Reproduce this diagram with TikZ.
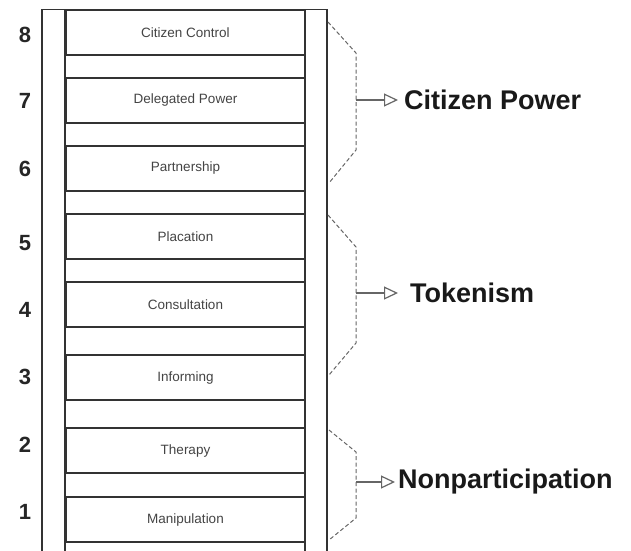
\documentclass[tikz,border=0pt]{standalone}
\usepackage{fontspec}
\setmainfont{Liberation Sans}
\usetikzlibrary{arrows.meta}
\definecolor{rungline}{HTML}{333333}
\definecolor{dashgray}{HTML}{666666}
\definecolor{labelgray}{HTML}{444444}
\tikzset{
  rung/.style={draw=rungline, line width=1.5pt, fill=white, rectangle,
    minimum width=239pt, minimum height=45pt, inner sep=0pt,
    font=\fontsize{13.5}{15}\selectfont, text=labelgray},
  rail/.style={draw=rungline, line width=1.5pt, fill=white},
  num/.style={font=\bfseries\fontsize{22}{24}\selectfont, text=black!85, inner sep=0pt},
  bracket/.style={draw=dashgray, line width=1pt, dash pattern=on 4pt off 2.5pt},
  pointer/.style={draw=dashgray, line width=1.2pt, -{Triangle[open, length=14pt, width=13pt, line width=1.2pt]}},
  grouplabel/.style={font=\bfseries\fontsize{27}{30}\selectfont, text=black!90, inner sep=0pt, anchor=west}
}
\begin{document}
\begin{tikzpicture}[x=1pt, y=-1pt]
\useasboundingbox (0,0) rectangle (631,550);
\clip (0,0) rectangle (631,550);
\fill[white] (0,0) rectangle (631,550);
% rails
\draw[rail] (42,9.5) rectangle (65,560);
\draw[rail] (305,9.5) rectangle (327,560);
% rungs
\node[rung] (r8) at (185.5,32.5) {Citizen Control};
\node[rung] (r7) at (185.5,100.5) {Delegated Power};
\node[rung] (r6) at (185.5,168.5) {Partnership};
\node[rung] (r5) at (185.5,236.5) {Placation};
\node[rung] (r4) at (185.5,304.5) {Consultation};
\node[rung] (r3) at (185.5,377.5) {Informing};
\node[rung] (r2) at (185.5,450.5) {Therapy};
\node[rung] (r1) at (185.5,519.5) {Manipulation};
% numbers
\node[num] (n8) at (25,35) {8};
\node[num] (n7) at (25,101) {7};
\node[num] (n6) at (25,169) {6};
\node[num] (n5) at (25,243) {5};
\node[num] (n4) at (25,310) {4};
\node[num] (n3) at (25,377) {3};
\node[num] (n2) at (25,445) {2};
\node[num] (n1) at (25,512) {1};
% brackets
\coordinate (cpA) at (328,22);  \coordinate (cpB) at (356,53);
\coordinate (cpC) at (356,150); \coordinate (cpD) at (329,183);
\coordinate (cpM) at (356,100);
\draw[bracket] (cpA) -- (cpB) -- (cpC) -- (cpD);
\coordinate (tkA) at (328,215); \coordinate (tkB) at (356,247);
\coordinate (tkC) at (356,343); \coordinate (tkD) at (329,375);
\coordinate (tkM) at (356,293);
\draw[bracket] (tkA) -- (tkB) -- (tkC) -- (tkD);
\coordinate (npA) at (329,430); \coordinate (npB) at (356,452);
\coordinate (npC) at (356,518); \coordinate (npD) at (329,540);
\coordinate (npM) at (356,482);
\draw[bracket] (npA) -- (npB) -- (npC) -- (npD);
% labels
\node[grouplabel] (cp) at (404,100) {Citizen Power};
\node[grouplabel] (tk) at (410,293) {Tokenism};
\node[grouplabel] (np) at (398,482) {Nonparticipation};
\draw[pointer, shorten >=6pt] (cpM) -- (cp.west |- cpM);
\draw[pointer, shorten >=12pt] (tkM) -- (tk.west |- tkM);
\draw[pointer, shorten >=3pt] (npM) -- (np.west |- npM);
\end{tikzpicture}
\end{document}
